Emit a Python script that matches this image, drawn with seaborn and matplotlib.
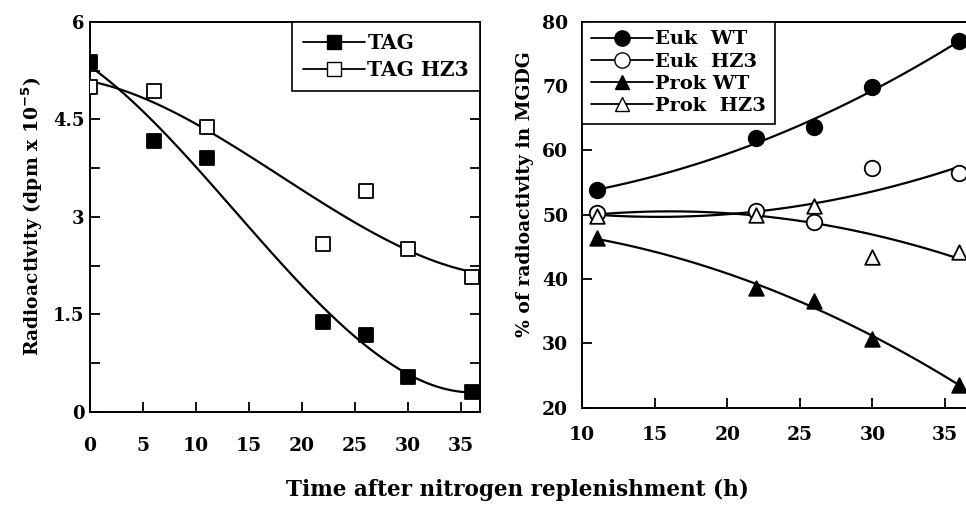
import matplotlib
matplotlib.use('Agg')
import matplotlib.pyplot as plt
from matplotlib.lines import Line2D
from matplotlib.ticker import MultipleLocator, FuncFormatter
import seaborn as sns

# Левая панель: радиоактивность TAG
hours_tag = [0, 6, 11, 22, 26, 30, 36]
tag_wt = [5.39, 4.17, 3.90, 1.38, 1.18, 0.54, 0.30]
tag_hz3 = [5.00, 4.93, 4.38, 2.58, 3.39, 2.50, 2.07]
tag_labels = ['TAG', 'TAG HZ3']

# Правая панель: % радиоактивности в MGDG
hours_mgdg = [11, 22, 26, 30, 36]
euk_wt = [53.8, 61.9, 63.7, 69.8, 77.0]
euk_hz3 = [50.2, 50.6, 48.9, 57.2, 56.4]
prok_wt = [46.3, 38.6, 36.5, 30.7, 23.5]
prok_hz3 = [49.8, 49.9, 51.3, 43.4, 44.2]
mgdg_labels = ['Euk  WT', 'Euk  HZ3', 'Prok WT', 'Prok  HZ3']

sns.set_style('ticks')
plt.rcParams['font.family'] = ['DejaVu Serif']
plt.rcParams['font.weight'] = 'bold'
plt.rcParams['axes.labelweight'] = 'bold'
plt.rcParams['mathtext.default'] = 'bf'
plt.rcParams['axes.linewidth'] = 1.4
plt.rcParams['text.color'] = 'black'
plt.rcParams['axes.labelcolor'] = 'black'
plt.rcParams['xtick.color'] = 'black'
plt.rcParams['ytick.color'] = 'black'
plt.rcParams['axes.edgecolor'] = 'black'

fig = plt.figure(figsize=(9.66, 5.18), dpi=100)
ax1 = fig.add_axes([0.0932, 0.2054, 0.4037, 0.7521])
ax2 = fig.add_axes([0.6025, 0.2131, 0.3975, 0.745])

# Левая панель
for ys, fc in [(tag_wt, 'black'), (tag_hz3, 'white')]:
    sns.regplot(x=hours_tag, y=ys, order=3, ci=None, scatter=False,
                line_kws=dict(color='black', lw=1.6), ax=ax1)
    sns.scatterplot(x=hours_tag, y=ys, marker='s', s=95, facecolor=fc,
                    edgecolor='black', linewidth=1.3, ax=ax1, zorder=3)

ax1.set_xlim(0, 36.8)
ax1.set_ylim(0, 6)
ax1.xaxis.set_major_locator(MultipleLocator(5))
ax1.yaxis.set_major_locator(MultipleLocator(1.5))
ax1.yaxis.set_minor_locator(MultipleLocator(0.75))
ax1.yaxis.set_major_formatter(FuncFormatter(lambda v, p: f'{v:g}'))
ax1.tick_params(axis='x', direction='in', length=7, width=1.3, pad=18, labelsize=13.5)
ax1.tick_params(axis='y', which='both', direction='in', length=7, width=1.3,
                right=True, pad=4, labelsize=13)
ax1.set_ylabel('Radioactivity (dpm x 10$^{-5}$)', fontsize=13.5, labelpad=6)

h1 = [Line2D([], [], color='black', lw=1.3, marker='s', markersize=9.5,
             markerfacecolor=fc, markeredgecolor='black')
      for fc in ['black', 'white']]
leg1 = ax1.legend(h1, tag_labels, loc='upper right', borderaxespad=0, fancybox=False,
                  edgecolor='black', framealpha=1, handlelength=3.1, handletextpad=0.1,
                  borderpad=0.55, labelspacing=0.35, prop={'size': 14.5, 'weight': 'bold'})
leg1.get_frame().set_linewidth(1.2)

# Правая панель
series = [(euk_wt, 'o', 'black'), (euk_hz3, 'o', 'white'),
          (prok_wt, '^', 'black'), (prok_hz3, '^', 'white')]
for ys, mk, fc in series:
    sns.regplot(x=hours_mgdg, y=ys, order=2, ci=None, scatter=False,
                line_kws=dict(color='black', lw=1.6), ax=ax2)
    sns.scatterplot(x=hours_mgdg, y=ys, marker=mk, s=125 if mk == 'o' else 110,
                    facecolor=fc, edgecolor='black', linewidth=1.3, ax=ax2,
                    zorder=3, clip_on=False)

ax2.set_xlim(10, 36.45)
ax2.set_ylim(20, 80)
ax2.set_xticks([10, 15, 20, 25, 30, 35])
ax2.yaxis.set_major_locator(MultipleLocator(10))
ax2.spines['right'].set_visible(False)
ax2.tick_params(axis='x', direction='in', length=7, width=1.3, pad=13, labelsize=13.5)
ax2.tick_params(axis='y', direction='in', length=7, width=1.3, pad=10, labelsize=13.5)
ax2.set_ylabel('% of radioactivity in MGDG', fontsize=13.5)
ax2.yaxis.set_label_coords(-0.124, 0.554)

h2 = [Line2D([], [], color='black', lw=1.3, marker=mk, markersize=11 if mk == 'o' else 10.5,
             markerfacecolor=fc, markeredgecolor='black') for _, mk, fc in series]
leg2 = ax2.legend(h2, mgdg_labels, loc='upper left', borderaxespad=0, fancybox=False,
                  edgecolor='black', framealpha=1, handlelength=3.2, handletextpad=0.1,
                  borderpad=0.45, labelspacing=0.22, prop={'size': 14, 'weight': 'bold'})
leg2.get_frame().set_linewidth(1.2)

fig.text(0.536, 0.054, 'Time after nitrogen replenishment (h)', ha='center', va='center',
         fontsize=15.5, fontweight='bold')

fig.savefig('out.png', dpi=100)
